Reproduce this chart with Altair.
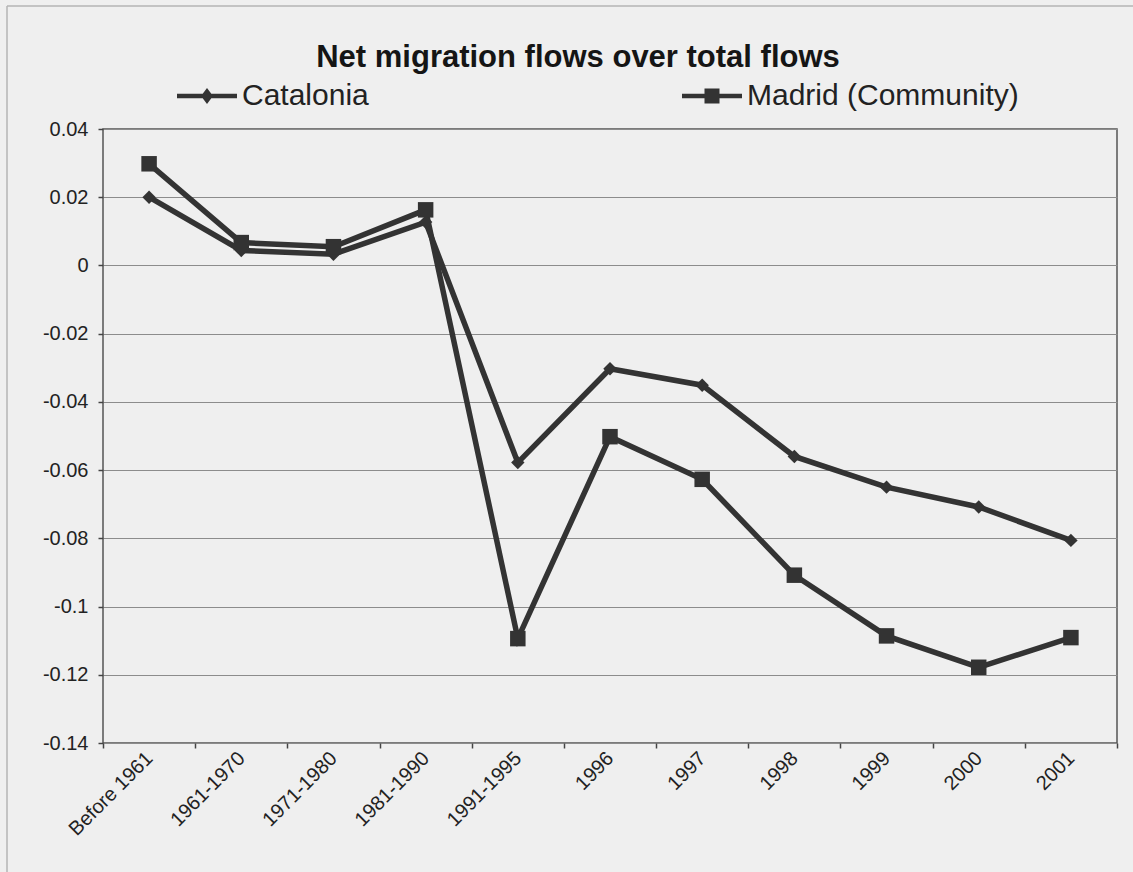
import altair as alt
import pandas as pd

categories = ["Before 1961", "1961-1970", "1971-1980", "1981-1990", "1991-1995",
              "1996", "1997", "1998", "1999", "2000", "2001"]
catalonia = [0.0200, 0.0044, 0.0033, 0.0127, -0.0578, -0.0303, -0.0351,
             -0.0560, -0.0650, -0.0708, -0.0806]
madrid = [0.0298, 0.0067, 0.0055, 0.0163, -0.1094, -0.0502, -0.0627,
          -0.0908, -0.1086, -0.1178, -0.1091]
series_names = ["Catalonia", "Madrid (Community)"]
y_ticks = [-0.14, -0.12, -0.1, -0.08, -0.06, -0.04, -0.02, 0, 0.02, 0.04]

rows = []
for i, c in enumerate(categories):
    rows.append({"period": c, "series": series_names[0], "value": catalonia[i]})
    rows.append({"period": c, "series": series_names[1], "value": madrid[i]})
df = pd.DataFrame(rows)

FONT = "Liberation Sans"
INK = "#333333"

xenc = alt.X("period:N", sort=categories, title=None,
             scale=alt.Scale(type="band", paddingInner=0, paddingOuter=0),
             axis=alt.Axis(labelAngle=-45, labelAlign="right", labelBaseline="middle",
                           labelFontSize=20, labelFont=FONT, labelColor="#222",
                           tickBand="extent", tickSize=5, tickColor="#444",
                           tickWidth=1.5, domain=False, grid=False, labelPadding=7))
yenc = alt.Y("value:Q", title=None,
             scale=alt.Scale(domain=[-0.14, 0.04], nice=False, zero=False),
             axis=alt.Axis(values=y_ticks, labelExpr="'' + datum.value",
                           labelFontSize=20, labelFont=FONT, labelColor="#222",
                           tickSize=5, tickColor="#444", tickWidth=1.5,
                           domain=False, grid=True, gridColor="#8c8c8c",
                           gridWidth=1, labelPadding=10))

base = alt.Chart(df)

lines = base.mark_line(color=INK, strokeWidth=5.5).encode(
    x=xenc, y=yenc, detail="series:N")

pts_cat = base.transform_filter(alt.datum.series == series_names[0]).mark_point(
    shape="diamond", size=180, filled=True, color=INK, opacity=1).encode(x=xenc, y=yenc)
pts_mad = base.transform_filter(alt.datum.series == series_names[1]).mark_point(
    shape="square", size=240, filled=True, color=INK, opacity=1).encode(x=xenc, y=yenc)

path_cat = ("M-1,-0.075L1,-0.075L1,0.075L-1,0.075Z "
            "M-0.2,0L0,-0.27L0.2,0L0,0.27Z")
path_mad = ("M-1,-0.075L1,-0.075L1,0.075L-1,0.075Z "
            "M-0.25,-0.25L0.25,-0.25L0.25,0.25L-0.25,0.25Z")

legend_layer = base.mark_point(opacity=0, size=3600, filled=True, color=INK).encode(
    x=xenc, y=yenc,
    shape=alt.Shape("series:N",
                    scale=alt.Scale(domain=series_names, range=[path_cat, path_mad]),
                    legend=alt.Legend(orient="none", legendX=74, legendY=-63,
                                      direction="horizontal", title=None,
                                      labelFontSize=30, labelFont=FONT, labelColor="#222",
                                      symbolSize=3600, symbolType=path_cat,
                                      symbolOpacity=1, symbolFillColor=INK,
                                      symbolStrokeColor=INK, symbolStrokeWidth=0,
                                      columnPadding=313, labelOffset=5,
                                      labelLimit=600, padding=0)))

frame = pd.DataFrame({"k": [0]})
frame_left = alt.Chart(frame).mark_rule(color="#b5b5b5", strokeWidth=1.5).encode(
    x=alt.value(-96), y=alt.value(-123), y2=alt.value(745))
frame_top = alt.Chart(frame).mark_rule(color="#b5b5b5", strokeWidth=1.5).encode(
    x=alt.value(-96), x2=alt.value(1030), y=alt.value(-123))

chart = alt.layer(frame_left, frame_top, legend_layer, lines, pts_cat, pts_mad).properties(
    width=1014, height=614,
    padding={"left": 103, "top": 129, "right": 16, "bottom": 129},
    autosize=alt.AutoSizeParams(type="none"),
    background="#efefef",
    title=alt.Title("Net migration flows over total flows", fontSize=31, font=FONT,
                    fontWeight="bold", color="#151515", anchor="middle", dx=-32,
                    baseline="alphabetic", offset=-93),
).configure_view(stroke="#555555", strokeWidth=1.5)

chart.save("out.html", embed_options={"renderer": "svg", "actions": False})
